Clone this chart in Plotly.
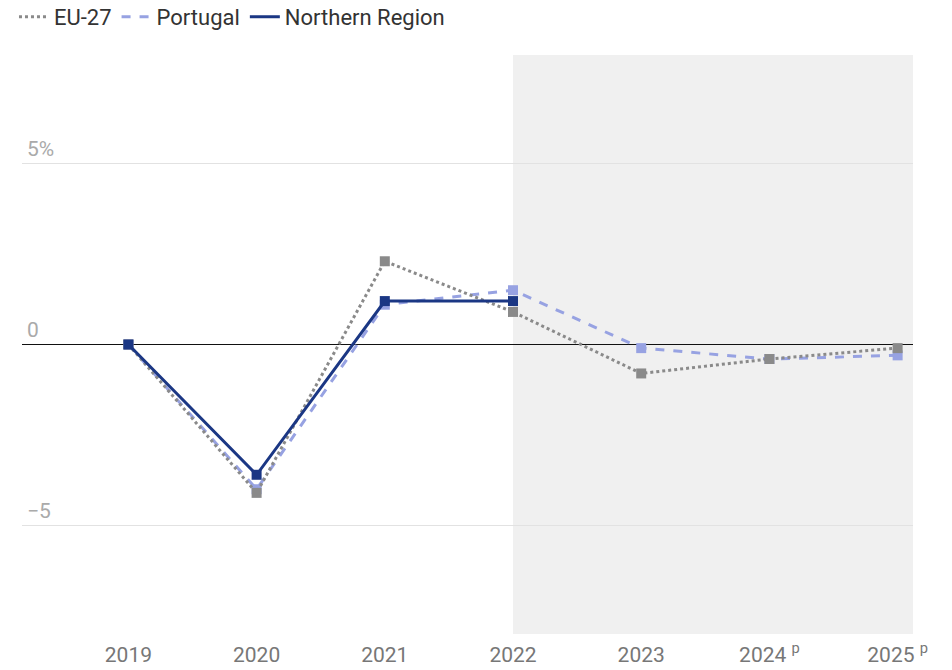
import plotly.graph_objects as go

years = [2019, 2020, 2021, 2022, 2023, 2024, 2025]
year_labels = ["2019", "2020", "2021", "2022", "2023",
               "2024 <sup>p</sup>", "2025 <sup>p</sup>"]

eu27 = [0, -4.1, 2.3, 0.9, -0.8, -0.4, -0.1]
portugal = [0, -4.0, 1.1, 1.5, -0.1, -0.4, -0.3]
northern_years = [2019, 2020, 2021, 2022]
northern = [0, -3.6, 1.2, 1.2]

y_ticks = [-5, 0, 5]
y_tick_labels = ["\u22125", "0", "5%"]

projection_start = 2022

series = [
    ("Portugal", years, portugal, "#97a2e2", "dash"),
    ("EU-27", years, eu27, "#8a8a8a", "dot"),
    ("Northern Region", northern_years, northern, "#1b3784", "solid"),
]
legend_rank = {"EU-27": 1, "Portugal": 2, "Northern Region": 3}

fig = go.Figure()
for name, xs, ys, color, dash in series:
    fig.add_trace(go.Scatter(
        x=xs, y=ys, mode="lines", name=name,
        line=dict(color=color, width=3, dash=dash),
        legendrank=legend_rank[name], hoverinfo="skip",
    ))
    fig.add_trace(go.Scatter(
        x=xs, y=ys, mode="markers", showlegend=False,
        marker=dict(symbol="square", size=10, color=color),
    ))

# shaded projection period
fig.add_shape(type="rect", xref="x", yref="paper", x0=projection_start, x1=2025.12,
              y0=0, y1=1, fillcolor="#f0f0f0", line_width=0, layer="below")

fig.update_layout(
    width=952, height=670,
    margin=dict(l=22, r=39, t=55, b=36, autoexpand=False),
    paper_bgcolor="white", plot_bgcolor="white",
    font=dict(family="Roboto, sans-serif", size=21, color="#333333"),
    legend=dict(orientation="h", x=-0.009, xanchor="left",
                y=1.102, yanchor="top",
                font=dict(size=22, color="#333333"), itemwidth=30,
                bgcolor="rgba(0,0,0,0)"),
    xaxis=dict(range=[2018.17, 2025.12], tickvals=years, ticktext=year_labels,
               showgrid=False, zeroline=False, showline=False, ticks="",
               automargin=False, ticklabelstandoff=6,
               tickfont=dict(size=21, color="#777777"), fixedrange=True),
    yaxis=dict(range=[-8, 8], tickvals=y_ticks, ticktext=y_tick_labels,
               ticklabelposition="inside top", showgrid=True, gridcolor="#e2e2e2",
               gridwidth=1, zeroline=True, zerolinecolor="#111111", zerolinewidth=1.3,
               showline=False, ticks="", automargin=False, ticklabelstandoff=2,
               tickfont=dict(size=21, color="#aaaaaa"), fixedrange=True),
    hovermode=False,
)

fig.write_html("out.html")
